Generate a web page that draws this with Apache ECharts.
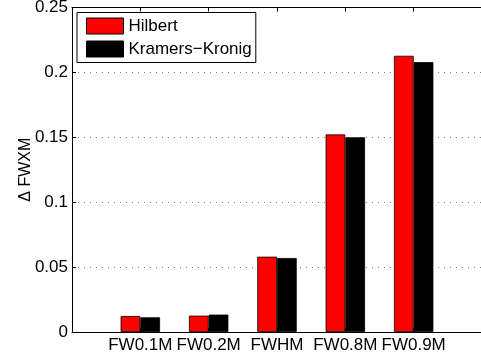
<!DOCTYPE html>
<html>
<head>
<meta charset="utf-8">
<script src="https://cdn.jsdelivr.net/npm/echarts@6/dist/echarts.min.js"></script>
<style>
html,body{margin:0;padding:0;background:#fff;}
#c{width:481px;height:363px;}
</style>
</head>
<body>
<div id="c"></div>
<script>
var categories = ['FW0.1M', 'FW0.2M', 'FWHM', 'FW0.8M', 'FW0.9M'];
var hilbert = [0.0123, 0.0126, 0.058, 0.1522, 0.2128];
var kramersKronig = [0.0113, 0.0134, 0.057, 0.150, 0.2079];
var yTicks = [0, 0.05, 0.1, 0.15, 0.2, 0.25];

var FONT = 'Liberation Sans, Arial, Helvetica, sans-serif';
function pairs(arr){ return arr.map(function(v,i){ return [i+1, v]; }); }

var chart = echarts.init(document.getElementById('c'), null, {renderer:'canvas'});
chart.setOption({
  animation: false,
  backgroundColor: '#fff',
  grid: {left: 72, right: -1, top: 7.5, bottom: 31, containLabel: false, outerBoundsMode: 'none'},
  legend: {
    orient: 'vertical', left: 77, top: 12.5,
    padding: [5, 4, 5, 9],
    borderColor: '#000', borderWidth: 1, backgroundColor: '#fff',
    itemWidth: 37, itemHeight: 16, itemGap: 6,
    icon: 'rect',
    textStyle: {fontFamily: FONT, fontSize: 17, color: '#000', lineHeight: 16},
    data: [
      {name: 'Hilbert', itemStyle: {color: '#ff0000', borderColor: '#000', borderWidth: 1}},
      {name: 'Kramers\u2212Kronig', itemStyle: {color: '#000', borderColor: '#000', borderWidth: 1}}
    ]
  },
  xAxis: [{
    type: 'value', min: 0, max: 6, interval: 1,
    axisLine: {show: true, onZero: false, lineStyle: {color: '#000', width: 1}},
    axisTick: {show: true, inside: true, length: 4, lineStyle: {color: '#000'}},
    splitLine: {show: false},
    axisLabel: {
      fontFamily: FONT, fontSize: 17, color: '#000', margin: 5,
      formatter: function(v){ return (v >= 1 && v <= 5) ? categories[v-1] : ''; }
    }
  }, {
    type: 'value', min: 0, max: 6, interval: 1, position: 'top',
    axisLine: {show: true, onZero: false, lineStyle: {color: '#000', width: 1}},
    axisTick: {show: true, inside: true, length: 4, lineStyle: {color: '#000'}},
    axisLabel: {show: false}, splitLine: {show: false}
  }],
  yAxis: [{
    type: 'value', min: 0, max: 0.25, interval: 0.05,
    name: '\u0394 FWXM', nameLocation: 'middle', nameGap: 38, nameMoveOverlap: false,
    nameTextStyle: {fontFamily: FONT, fontSize: 16, color: '#000'},
    axisLine: {show: true, lineStyle: {color: '#000', width: 1}},
    axisTick: {show: true, inside: true, length: 4, lineStyle: {color: '#000'}},
    axisLabel: {fontFamily: FONT, fontSize: 17, color: '#000', margin: 4,
      formatter: function(v){ return String(+v.toFixed(2)); }},
    splitLine: {show: true, lineStyle: {color: '#7f7f7f', type: [1, 5], width: 1}}
  }],
  series: [{
    name: 'Hilbert', type: 'bar', xAxisIndex: 0, yAxisIndex: 0,
    data: pairs(hilbert),
    barWidth: 19.7, barGap: '0%',
    itemStyle: {color: '#ff0000', borderColor: '#000', borderWidth: 0.8}
  }, {
    name: 'Kramers\u2212Kronig', type: 'bar', xAxisIndex: 0, yAxisIndex: 0,
    data: pairs(kramersKronig),
    barWidth: 19.7, barGap: '0%',
    itemStyle: {color: '#000', borderColor: '#000', borderWidth: 0.8}
  }]
});
</script>
</body>
</html>
